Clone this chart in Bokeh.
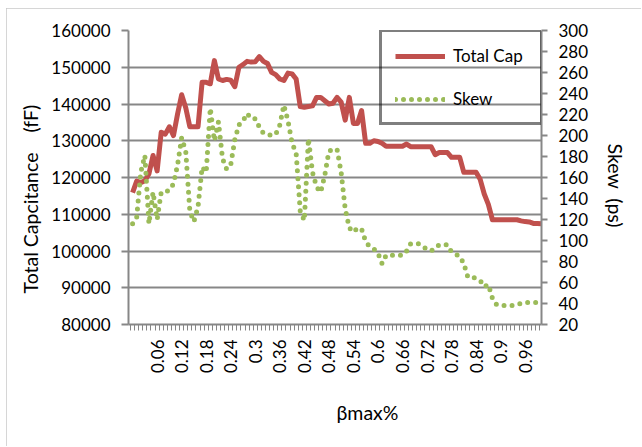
import math
from bokeh.plotting import figure
from bokeh.models import (Range1d, LinearAxis, FixedTicker, Legend, LegendItem,
                          Title, ColumnDataSource, NumeralTickFormatter)
from bokeh.embed import file_html
from bokeh.resources import INLINE

# ---------------- data ----------------
beta_max = [0.00, 0.01, 0.02, 0.03, 0.04, 0.05, 0.06, 0.07, 0.08, 0.09,
            0.10, 0.11, 0.12, 0.13, 0.14, 0.15, 0.16, 0.17, 0.18, 0.19,
            0.20, 0.21, 0.22, 0.23, 0.24, 0.25, 0.26, 0.27, 0.28, 0.29,
            0.30, 0.31, 0.32, 0.33, 0.34, 0.35, 0.36, 0.37, 0.38, 0.39,
            0.40, 0.41, 0.42, 0.43, 0.44, 0.45, 0.46, 0.47, 0.48, 0.49,
            0.50, 0.51, 0.52, 0.53, 0.54, 0.55, 0.56, 0.57, 0.58, 0.59,
            0.60, 0.61, 0.62, 0.63, 0.64, 0.65, 0.66, 0.67, 0.68, 0.69,
            0.70, 0.71, 0.72, 0.73, 0.74, 0.75, 0.76, 0.77, 0.78, 0.79,
            0.80, 0.81, 0.82, 0.83, 0.84, 0.85, 0.86, 0.87, 0.88, 0.89,
            0.90, 0.91, 0.92, 0.93, 0.94, 0.95, 0.96, 0.97, 0.98, 0.99,
            1.00]

total_cap = [115900, 119000, 118600, 119100, 121000, 126000, 121800, 132300, 131800, 133800,
             131400, 137300, 142500, 139000, 133800, 133800, 133800, 145900, 145900, 145500,
             151800, 146800, 146400, 146700, 146500, 144700, 150000, 150700, 151600, 151400,
             151500, 152900, 151600, 151000, 148600, 148000, 146800, 146400, 148400, 148200,
             146800, 139300, 139100, 139300, 139500, 141800, 141800, 140900, 140000, 140200,
             141800, 140500, 135600, 141800, 134700, 134700, 138200, 129300, 129300, 130000,
             129800, 129300, 128500, 128500, 128500, 128500, 128500, 129100, 128400, 128400,
             128400, 128400, 128400, 128400, 126200, 126800, 126800, 126800, 125500, 125500,
             125500, 121400, 121400, 121400, 121400, 119500, 115500, 112700, 108500, 108500,
             108500, 108500, 108500, 108500, 108500, 108200, 108000, 107900, 107500, 107500,
             107400]

skew = [116, 122, 165, 181, 116, 146, 120, 146, 146, 148,
        154, 172, 198, 185, 128, 118, 132, 170, 165, 226,
        195, 213, 178, 168, 172, 196, 210, 214, 221, 216,
        216, 208, 202, 201, 200, 201, 210, 229, 214, 193,
        183, 128, 119, 197, 165, 151, 146, 162, 185, 187,
        187, 165, 130, 112, 108, 112, 111, 99, 94, 92,
        88, 78, 86, 86, 86, 86, 86, 90, 97, 97,
        97, 94, 92, 90, 93, 96, 96, 96, 89, 87,
        85, 78, 65, 65, 64, 62, 56, 58, 45, 39,
        38, 38, 38, 38, 39, 40, 41, 41, 41, 41,
        41]

x_tick_values = [0.06, 0.12, 0.18, 0.24, 0.30, 0.36, 0.42, 0.48,
                 0.54, 0.60, 0.66, 0.72, 0.78, 0.84, 0.90, 0.96]
x_tick_labels = ["0.06", "0.12", "0.18", "0.24", "0.3", "0.36", "0.42", "0.48",
                 "0.54", "0.6", "0.66", "0.72", "0.78", "0.84", "0.9", "0.96"]
cap_ticks = [80000, 90000, 100000, 110000, 120000, 130000, 140000, 150000, 160000]
skew_ticks = [20, 40, 60, 80, 100, 120, 140, 160, 180, 200, 220, 240, 260, 280, 300]

cap_title = "Total Capcitance\u00a0\u00a0\u00a0\u00a0(fF)"
skew_title = "Skew\u00a0\u00a0(ps)"
x_title = "βmax%"

# ---------------- styling ----------------
FONT = "Lato"
GRID = "#878787"
RED = "#c0504d"
GREEN = "#9bbb59"

p = figure(width=635, height=438, output_backend="svg", toolbar_location=None,
           x_range=Range1d(-0.01, 1.0), y_range=Range1d(80000, 160000),
           min_border_left=122, min_border_right=100, min_border_top=22,
           min_border_bottom=122)
p.styles = {"outline": "1px solid #c8c8c8", "outline-offset": "-1px",
            "margin-left": "6px", "margin-top": "8px"}
p.outline_line_color = None
p.background_fill_color = "white"
p.border_fill_color = "white"

# x axis
minor_bounds = [round(-0.005 + 0.01 * k, 3) for k in range(0, 102)]
p.xaxis.ticker = FixedTicker(ticks=x_tick_values, minor_ticks=minor_bounds)
p.xaxis.major_label_overrides = dict(zip(x_tick_values, x_tick_labels))
p.xaxis.major_label_orientation = math.pi / 2
p.xaxis.major_tick_line_color = None
p.xaxis.minor_tick_line_color = GRID
p.xaxis.minor_tick_out = 6
p.xaxis.minor_tick_in = 0
p.xaxis.major_label_standoff = 9
p.xaxis.axis_line_color = GRID
p.xaxis.axis_line_width = 2
p.xgrid.visible = False

# left axis
p.yaxis.ticker = FixedTicker(ticks=cap_ticks)
p.yaxis.formatter = NumeralTickFormatter(format="0")
p.ygrid.ticker = p.yaxis[0].ticker
p.yaxis.major_tick_out = 7
p.yaxis.major_tick_in = 0
p.yaxis.minor_tick_line_color = None
p.yaxis.major_tick_line_color = GRID
p.yaxis.major_tick_line_width = 2
p.yaxis.axis_line_color = GRID
p.yaxis.axis_line_width = 2
p.yaxis.major_label_standoff = 11
p.ygrid.grid_line_color = GRID
p.ygrid.grid_line_width = 2

# right axis
p.extra_y_ranges = {"skew": Range1d(20, 300)}
ax_r = LinearAxis(y_range_name="skew", ticker=FixedTicker(ticks=skew_ticks))
ax_r.major_tick_out = 6
ax_r.major_tick_in = 0
ax_r.minor_tick_line_color = None
ax_r.major_tick_line_color = GRID
ax_r.major_tick_line_width = 2
ax_r.axis_line_color = GRID
ax_r.axis_line_width = 2
ax_r.major_label_standoff = 11
p.add_layout(ax_r, "right")

for ax in [p.xaxis[0], p.yaxis[0], ax_r]:
    ax.major_label_text_font = FONT
    ax.major_label_text_font_size = "17px"
    ax.major_label_text_color = "black"

# series
src = ColumnDataSource(dict(x=beta_max, cap=total_cap, skew=skew))
r_cap = p.line("x", "cap", source=src, line_color=RED, line_width=5,
               line_join="round")
r_skew = p.line("x", "skew", source=src, y_range_name="skew", line_color=GREEN,
                line_width=5, line_dash="0 8", line_cap="round")

# legend
legend = Legend(items=[LegendItem(label="Total Cap", renderers=[r_cap]),
                       LegendItem(label="Skew", renderers=[r_skew])],
                location=(251, 199))
legend.background_fill_alpha = 0
legend.border_line_color = "black"
legend.border_line_width = 3
legend.padding = 13
legend.spacing = 22
legend.glyph_width = 50
legend.glyph_height = 16
legend.label_height = 16
legend.label_width = 74
legend.label_standoff = 8
legend.label_text_font = FONT
legend.label_text_font_size = "17px"
legend.label_text_color = "black"
legend.margin = 0
p.add_layout(legend)

# axis titles
def title(text, offset, standoff):
    return Title(text=text, align="left", offset=offset, standoff=standoff,
                 text_font=FONT, text_font_size="19.5px", text_font_style="normal",
                 text_color="black")

p.add_layout(title(cap_title, 31, 14), "left")
p.add_layout(title(skew_title, 113, 24), "right")
p.add_layout(title(x_title, 208, 45), "below")

open("out.html", "w").write(file_html(p, INLINE))
